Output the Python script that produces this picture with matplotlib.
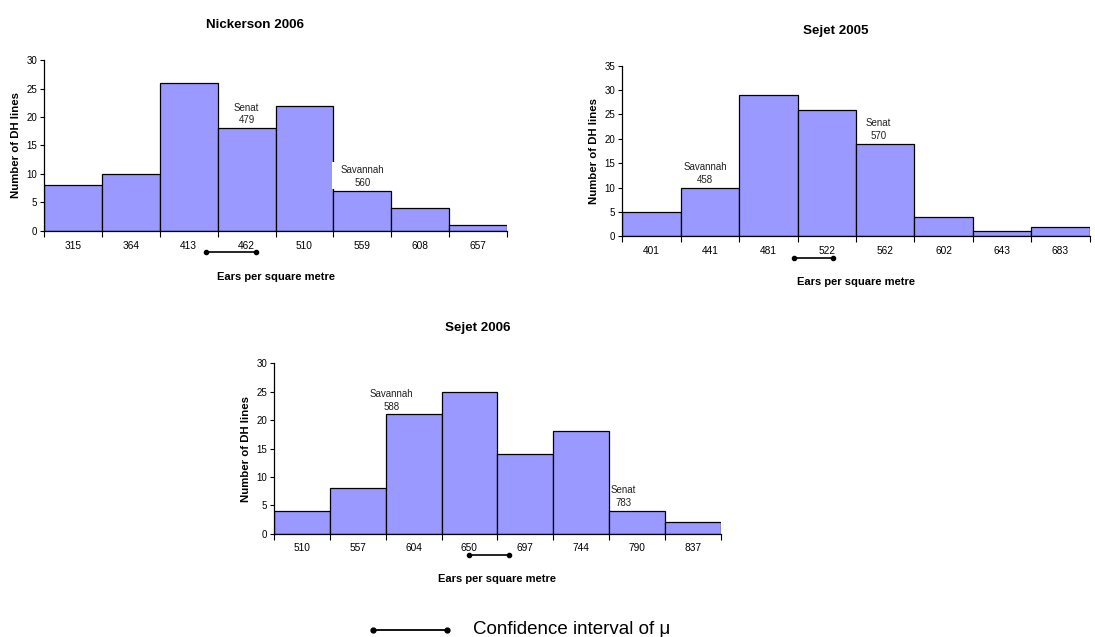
import numpy as np
import matplotlib
matplotlib.use("Agg")
import matplotlib.pyplot as plt
from matplotlib.lines import Line2D
from matplotlib.patches import Rectangle
from matplotlib.ticker import FixedLocator, NullFormatter

plt.rcParams['font.family'] = ['Liberation Sans', 'DejaVu Sans']

# --- histogram data: bin centres (ears per m2) and number of DH lines ---
nick06_bins = [315, 364, 413, 462, 510, 559, 608, 657]
nick06_counts = [8, 10, 26, 18, 22, 7, 4, 1]
nick06_ci = [428, 470]

sej05_bins = [401, 441, 481, 522, 562, 602, 643, 683]
sej05_counts = [5, 10, 29, 26, 19, 4, 1, 2]
sej05_ci = [499, 526]

sej06_bins = [510, 557, 604, 650, 697, 744, 790, 837]
sej06_counts = [4, 8, 21, 25, 14, 18, 4, 2]
sej06_ci = [650, 683]

# check varieties (name, ears per m2)
nick06_checks = [("Senat", 479), ("Savannah", 560)]
sej05_checks = [("Savannah", 458), ("Senat", 570)]
sej06_checks = [("Savannah", 588), ("Senat", 783)]

bar_col = '#9999ff'


def hist_panel(fig, rect, title, bins, counts, ymax, ci, checks, lab_x,
               boxed=()):
    ax = fig.add_axes(rect)
    n = len(bins)
    x = np.arange(n)
    ax.bar(x, counts, width=1.0, color=bar_col, edgecolor='black',
           linewidth=0.9, zorder=2)
    ax.set_xlim(-0.5, n - 0.5)
    ax.set_ylim(0, ymax)
    ax.set_yticks(np.arange(0, ymax + 1, 5))
    ax.tick_params(axis='y', labelsize=7, length=3, width=0.8, pad=2)
    # category labels between the edge ticks
    ax.set_xticks(x)
    ax.set_xticklabels([str(b) for b in bins], fontsize=7.3)
    ax.tick_params(axis='x', which='major', length=0, pad=7)
    ax.xaxis.set_minor_locator(FixedLocator(np.arange(n + 1) - 0.5))
    ax.xaxis.set_minor_formatter(NullFormatter())
    ax.tick_params(axis='x', which='minor', length=4, width=0.8)
    for s in ['top', 'right']:
        ax.spines[s].set_visible(False)
    for s in ['left', 'bottom']:
        ax.spines[s].set_linewidth(0.9)
    ax.set_title(title, fontsize=9.6, fontweight='bold', pad=23, x=0.456)
    ax.set_ylabel('Number of DH lines', fontsize=8.2, fontweight='bold',
                  labelpad=4)
    ax.set_xlabel('Ears per square metre', fontsize=8, fontweight='bold',
                  labelpad=15)

    # variety labels above the bin that holds them
    edges = np.array(bins[:-1]) + np.diff(bins) / 2.0
    for (name, val), lx in zip(checks, lab_x):
        k = int(np.searchsorted(edges, val))
        y0 = counts[k] + ymax * 0.017
        if name in boxed:
            ax.add_patch(Rectangle((k - 0.53, counts[k] + 0.35), 1.06,
                                   ymax * 0.158, facecolor='white',
                                   edgecolor='none', zorder=3))
        ax.text(lx, y0, '%s\n%d' % (name, val),
                ha='center', va='bottom', fontsize=7, linespacing=1.35,
                color='#222222', zorder=4)

    # confidence interval of the mean under the axis
    cx = np.interp(ci, bins, x)
    ax.plot(cx, [-0.125 * ymax] * 2, '-', color='black', lw=1.2,
            marker='o', ms=3, clip_on=False)
    return ax


fig = plt.figure(figsize=(10.95, 6.37), dpi=100)

hist_panel(fig, [0.0402, 0.6374, 0.4228, 0.2684], 'Nickerson 2006',
           nick06_bins, nick06_counts, 30, nick06_ci, nick06_checks,
           [3.0, 5.0], boxed=('Savannah',))
hist_panel(fig, [0.5683, 0.6290, 0.4269, 0.2679], 'Sejet 2005',
           sej05_bins, sej05_counts, 35, sej05_ci, sej05_checks,
           [0.92, 3.88])
hist_panel(fig, [0.2502, 0.1622, 0.4080, 0.2674], 'Sejet 2006',
           sej06_bins, sej06_counts, 30, sej06_ci, sej06_checks,
           [1.61, 5.76])

# key for the interval marks
fig.add_artist(Line2D([373 / 1095, 447 / 1095], [1 - 630 / 637] * 2,
                      color='black', lw=1.3, marker='o', ms=3.5,
                      transform=fig.transFigure))
fig.text(473 / 1095, 1 - 630 / 637, 'Confidence interval of \u03bc',
         fontsize=13.5, va='center', ha='left')

fig.savefig('out.png', dpi=100)
